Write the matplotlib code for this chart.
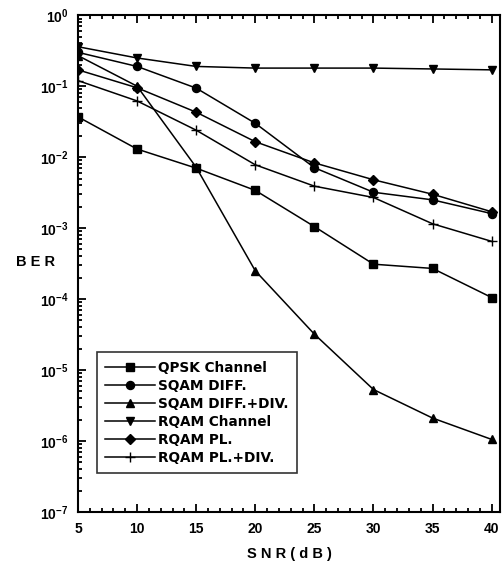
import matplotlib
matplotlib.use('Agg')
import matplotlib.pyplot as plt
from matplotlib.ticker import LogLocator, MultipleLocator, NullFormatter

plt.rcParams['font.family'] = ['Liberation Sans', 'DejaVu Sans']

snr = [5, 10, 15, 20, 25, 30, 35, 40]
qpsk_channel = [0.037, 0.013, 0.0070, 0.0034, 0.00105, 0.00031, 0.00027, 0.000105]
sqam_diff = [0.30, 0.19, 0.094, 0.030, 0.0071, 0.0032, 0.0025, 0.0016]
sqam_diff_div = [0.27, 0.10, 0.0072, 0.00025, 3.2e-5, 5.3e-6, 2.1e-6, 1.05e-6]
rqam_channel = [0.36, 0.25, 0.19, 0.18, 0.18, 0.18, 0.175, 0.17]
rqam_pl = [0.17, 0.095, 0.043, 0.0165, 0.0083, 0.0048, 0.0030, 0.0017]
rqam_pl_div = [0.12, 0.062, 0.024, 0.0078, 0.0039, 0.0027, 0.00115, 0.00065]

series = [
    ('QPSK Channel', qpsk_channel, 's', 5.2),
    ('SQAM DIFF.', sqam_diff, 'o', 5.8),
    ('SQAM DIFF.+DIV.', sqam_diff_div, '^', 6.2),
    ('RQAM Channel', rqam_channel, 'v', 6.2),
    ('RQAM PL.', rqam_pl, 'D', 5.0),
    ('RQAM PL.+DIV.', rqam_pl_div, '+', 7.0),
]

fig = plt.figure(figsize=(5.03, 5.65), dpi=100)
ax = fig.add_axes([0.155, 0.094, 0.839, 0.879])

for name, vals, m, ms in series:
    ax.plot(snr, vals, color='black', lw=1.1, marker=m, ms=ms,
            mew=1.0, mfc='black', mec='black', label=name)

ax.set_yscale('log')
ax.set_ylim(1e-7, 1)
ax.set_xlim(5, 40.7)
ax.xaxis.set_major_locator(MultipleLocator(5))
ax.xaxis.set_minor_locator(MultipleLocator(1))
ax.yaxis.set_major_locator(LogLocator(base=10, numticks=10))
ax.yaxis.set_minor_locator(LogLocator(base=10, subs=range(2, 10), numticks=10))
ax.yaxis.set_minor_formatter(NullFormatter())

ax.tick_params(which='both', direction='in', top=True, right=False,
               width=1.3, labelsize=10, pad=7)
ax.tick_params(which='major', length=6)
ax.tick_params(which='minor', length=3)
for lab in ax.get_xticklabels() + ax.get_yticklabels():
    lab.set_fontweight('bold')
for s in ax.spines.values():
    s.set_linewidth(1.5)

ax.set_xlabel('S N R ( d B )', fontsize=10.5, fontweight='bold', labelpad=8)
ax.set_ylabel('B E R', fontsize=10.5, fontweight='bold', rotation=0)
ax.yaxis.set_label_coords(-0.1, 0.49)

leg = ax.legend(loc='lower left', bbox_to_anchor=(0.045, 0.078),
                frameon=True, fancybox=False, edgecolor='black',
                handlelength=3.7, handletextpad=0.2, labelspacing=0.3,
                borderpad=0.6, borderaxespad=0,
                prop={'family': 'DejaVu Sans', 'weight': 'bold', 'size': 9.8})
leg.get_frame().set_linewidth(1.2)

fig.savefig('out.png', dpi=100)
